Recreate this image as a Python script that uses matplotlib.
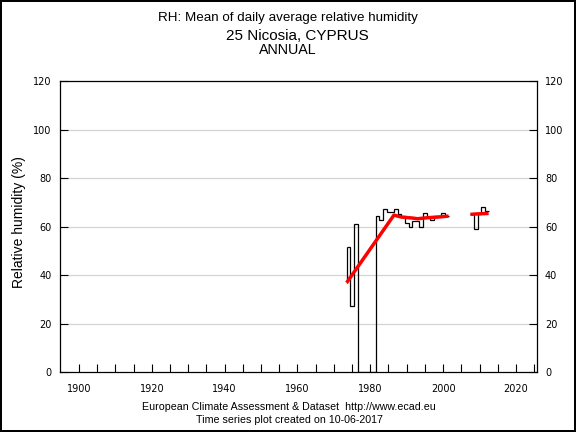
import numpy as np
import matplotlib
matplotlib.use("Agg")
import matplotlib.pyplot as plt

# ---- data ----
run1_years = list(range(1974, 2002))
run1_vals = [51.7, 27.2, 60.9, 0, 0, 0, 0, 0,
             64.3, 62.7, 67.1, 65.8, 65.8, 67.1, 65.2, 64.5,
             61.3, 60.0, 62.4, 62.4, 60.0, 65.5, 64.0, 62.7,
             64.5, 64.3, 65.4, 64.3]
run2_years = list(range(2008, 2013))
run2_vals = [65.2, 59.0, 65.2, 67.9, 66.4]

trend1_x = [1973.5, 1986.5, 1988.5, 1991.5, 1993.0, 1995.5, 1999.5, 2001.5]
trend1_y = [36.8, 64.7, 63.9, 63.5, 63.2, 63.6, 64.0, 64.3]
trend2_x = [2007.5, 2009.5, 2012.5]
trend2_y = [65.0, 65.2, 65.4]

xticks_major = list(range(1900, 2021, 20))
xticks_all = list(range(1900, 2026, 5))
yticks = list(range(0, 121, 20))

fig = plt.figure(figsize=(5.76, 4.32), dpi=100)
fig.patch.set_facecolor("white")
fig.patch.set_edgecolor("black")
fig.patch.set_linewidth(1.5)

ax = fig.add_axes([60/576, 1-372/432, (536.7-60)/576, (372-81)/432])
ax.set_xlim(1894.8, 2025.7)
ax.set_ylim(0, 120)

for y in yticks[1:-1]:
    ax.axhline(y, color="#d4d4d4", lw=0.9, zorder=0)

def draw_run(years, vals):
    years = np.asarray(years, float)
    edges = np.append(years - 0.5, years[-1] + 0.5)
    ax.stairs(vals, edges, baseline=None, color="black", lw=0.9, zorder=2)

draw_run(run1_years, run1_vals)
draw_run(run2_years, run2_vals)
ax.vlines(run1_years[0] - 0.5, trend1_y[0], run1_vals[0], color="black", lw=0.9, zorder=2)

ax.plot(trend1_x, trend1_y, color="#ff0000", lw=2.5, zorder=3, solid_capstyle="butt")
ax.plot(trend2_x, trend2_y, color="#ff0000", lw=2.5, zorder=3, solid_capstyle="butt")

ax.set_xticks(xticks_all)
ax.set_xticklabels([str(t) if t in xticks_major else "" for t in xticks_all])
ax.set_yticks(yticks)
ax.tick_params(axis="x", direction="in", length=5.5, width=0.8, pad=8.5,
               labelsize=7, top=False)
ax.tick_params(axis="y", direction="in", length=5.5, width=0.8, pad=6,
               labelsize=7, left=True, right=True, labelleft=True, labelright=True)
for lab in ax.get_xticklabels() + ax.get_yticklabels():
    lab.set_family("DejaVu Sans")
for s in ax.spines.values():
    s.set_linewidth(0.9)

fig.text(19/576, 1-222/432, "Relative humidity (%)", rotation=90,
         ha="center", va="center", fontsize=10, family="Liberation Sans")

fig.text(0.5, 1-18/432, "RH: Mean of daily average relative humidity",
         ha="center", va="center", fontsize=9.6, family="Liberation Sans")
fig.text(297/576, 1-36/432, "25 Nicosia, CYPRUS",
         ha="center", va="center", fontsize=11, family="Liberation Sans")
fig.text(288/576, 1-50.5/432, "ANNUAL",
         ha="center", va="center", fontsize=10.3, family="Liberation Sans")
fig.text(289/576, 1-407/432, "European Climate Assessment & Dataset  http://www.ecad.eu",
         ha="center", va="center", fontsize=7.7, family="Liberation Sans")
fig.text(289/576, 1-420/432, "Time series plot created on 10-06-2017",
         ha="center", va="center", fontsize=7.7, family="Liberation Sans")

fig.savefig("out.png", dpi=100, facecolor=fig.get_facecolor(), edgecolor=fig.get_edgecolor())
